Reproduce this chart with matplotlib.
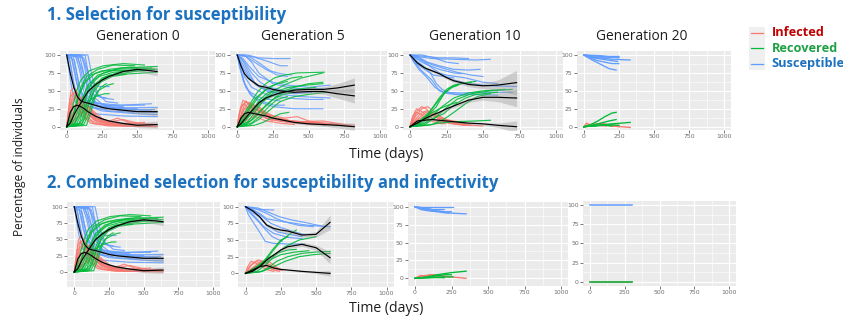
import matplotlib
matplotlib.use("Agg")
import matplotlib.pyplot as plt
from matplotlib.ticker import FixedLocator
import numpy as np

# ---------------- DATA ----------------
RED, GREEN, BLUE = "#F8766D", "#00BA38", "#619CFF"
x_ticks = [0, 250, 500, 750, 1000]
y_ticks = [0, 25, 50, 75, 100]
row_titles = ["1. Selection for susceptibility",
              "2. Combined selection for susceptibility and infectivity"]
strip_titles = ["Generation 0", "Generation 5", "Generation 10", "Generation 20"]
legend_labels = ["Infected", "Recovered", "Susceptible"]
legend_text_colors = ["#C00000", "#1CA145", "#1C72BE"]

# Generation 0 (same founder population in both experiments)
g0_S = [
    [(0,100),(20,95),(40,70),(60,50),(90,40),(150,32),(250,27),(400,22),(640,20)],
    [(0,100),(30,100),(50,85),(80,55),(120,38),(200,30),(350,25),(600,22)],
    [(0,100),(60,100),(90,80),(120,50),(160,35),(250,28),(450,24),(620,24)],
    [(0,100),(90,100),(120,75),(150,50),(190,35),(300,28),(500,25)],
    [(0,100),(110,98),(140,70),(170,45),(220,30),(350,26),(640,27)],
    [(0,100),(130,100),(160,65),(200,40),(260,30),(400,28)],
    [(0,100),(15,80),(35,55),(60,35),(100,25),(200,18),(400,15),(640,14)],
    [(0,100),(25,90),(50,60),(80,40),(130,30),(250,22),(500,18),(640,17)],
    [(0,100),(70,98),(100,85),(140,60),(180,45),(260,40),(330,38)],
    [(0,100),(100,100),(130,85),(170,62),(220,56),(300,56)],
    [(0,100),(45,100),(70,75),(100,50),(150,35),(300,30),(550,30)],
    [(0,100),(80,97),(110,70),(140,45),(200,33),(380,30),(600,32)],
    [(0,100),(55,92),(85,60),(120,40),(180,28),(300,22),(480,20)],
    [(0,100),(150,100),(180,70),(220,45),(280,35),(360,33)],
    [(0,100),(35,95),(65,65),(95,42),(140,30),(220,25),(280,24)],
    [(0,100),(120,96),(150,78),(180,55),(230,42),(280,40)],
]
g0_R = [
    [(0,0),(30,5),(60,25),(90,45),(130,62),(200,74),(300,80),(450,83),(640,80)],
    [(0,0),(50,3),(80,15),(110,38),(150,58),(220,72),(350,80),(600,82)],
    [(0,0),(80,2),(110,10),(140,30),(180,52),(250,68),(400,78),(620,80)],
    [(0,0),(100,2),(130,12),(160,35),(200,55),(280,70),(500,78)],
    [(0,0),(20,8),(45,30),(70,50),(100,65),(160,78),(260,85),(400,88),(550,86)],
    [(0,0),(60,5),(100,22),(140,45),(200,60),(300,72),(640,76)],
    [(0,0),(120,3),(150,15),(180,35),(220,50),(290,58),(330,60)],
    [(0,0),(70,4),(110,20),(150,35),(200,42),(270,46),(300,46)],
    [(0,0),(40,10),(70,35),(100,55),(140,70),(220,80),(330,86),(480,85)],
    [(0,0),(90,5),(120,25),(150,50),(190,65),(260,75),(380,82),(640,84)],
    [(0,0),(140,2),(170,20),(200,40),(240,55),(280,60)],
    [(0,0),(30,2),(60,12),(100,35),(150,55),(230,70),(330,76),(560,78)],
    [(0,0),(110,5),(150,28),(190,48),(240,62),(320,70),(420,73)],
    [(0,0),(50,15),(80,40),(120,60),(170,72),(250,78),(600,79)],
]
g0_I = [
    [(0,0),(15,25),(30,50),(50,55),(80,40),(120,20),(180,8),(250,3),(400,1),(640,0)],
    [(0,0),(20,15),(45,35),(70,45),(100,35),(150,18),(220,8),(350,3),(600,1)],
    [(0,0),(25,10),(60,25),(100,38),(130,30),(180,15),(260,6),(450,2)],
    [(0,0),(40,8),(80,20),(120,32),(160,25),(220,12),(300,5),(500,2)],
    [(0,0),(10,20),(25,40),(45,48),(70,35),(110,15),(170,5),(300,1),(640,1)],
    [(0,0),(30,12),(70,28),(110,30),(150,22),(200,12),(280,6),(400,10),(520,4)],
    [(0,0),(50,5),(100,18),(140,25),(180,20),(240,10),(330,5),(620,3)],
    [(0,0),(20,20),(40,38),(65,42),(95,28),(140,12),(200,4),(380,2)],
    [(0,0),(35,15),(75,35),(110,42),(150,30),(210,14),(290,7),(360,12),(450,5),(640,3)],
    [(0,0),(15,10),(40,28),(80,32),(130,22),(190,10),(260,4),(300,3)],
    [(0,0),(60,10),(110,22),(160,28),(200,20),(260,10),(350,4),(550,6)],
    [(0,0),(25,30),(45,45),(70,50),(100,38),(140,20),(200,9),(330,2),(480,1)],
]
g0_mean_t = [0, 25, 50, 75, 100, 125, 150, 200, 250, 300, 400, 500, 640]
g0_mean_S = [100, 75, 55, 42, 36, 34, 33, 30, 27, 25, 23, 21, 21]
g0_se_S = [1, 2, 2, 2, 2, 1.5, 1.5, 1.5, 1.5, 1.5, 2, 3, 6]
g0_mean_I = [0, 20, 28, 30, 28, 25, 21, 15, 11, 8, 4.5, 2, 3]
g0_se_I = [1, 1.5, 1.5, 1.5, 1.5, 1.5, 1.5, 1.5, 1.5, 1.5, 2, 3, 5]
g0_mean_R = [0, 5, 16, 25, 33, 41, 49, 58, 65, 70, 77, 80, 77]
g0_se_R = [0.5, 1, 1.5, 1.5, 1.5, 1.5, 1.5, 1.5, 1.5, 1.5, 2, 3, 6]

# Experiment 1, generation 5
e1g5_S = [
    [(0,100),(20,90),(50,70),(100,55),(200,45),(350,40),(500,38),(600,38)],
    [(0,100),(30,95),(70,80),(120,62),(200,50),(300,45),(450,42),(650,40)],
    [(0,100),(50,100),(100,90),(150,75),(250,60),(350,55),(500,52),(600,53)],
    [(0,100),(100,98),(200,92),(300,85),(350,85)],
    [(0,100),(20,85),(50,60),(90,45),(150,35),(250,28),(400,25),(600,25)],
    [(0,100),(40,95),(80,85),(150,70),(250,62),(350,58),(500,55),(650,58)],
    [(0,100),(60,98),(120,90),(200,80),(280,72),(350,70)],
    [(0,100),(10,88),(40,65),(80,50),(140,42),(220,38),(300,36)],
    [(0,100),(70,100),(150,96),(250,95),(370,95)],
    [(0,100),(30,90),(80,72),(130,58),(200,52),(300,50),(420,52),(560,52)],
    [(0,100),(50,90),(100,75),(160,62),(220,55),(300,52)],
    [(0,100),(25,78),(60,55),(110,42),(180,35),(260,30),(330,30)],
    [(0,100),(90,97),(160,88),(230,78),(300,74),(380,72)],
    [(0,100),(15,93),(45,80),(90,66),(160,55),(260,48),(400,46),(520,48)],
]
e1g5_R = [
    [(0,0),(50,8),(100,20),(150,30),(200,38),(300,48),(400,55),(500,60),(600,62)],
    [(0,0),(40,5),(100,18),(160,35),(250,50),(350,60),(450,68),(600,75)],
    [(0,0),(60,3),(120,12),(180,25),(250,38),(320,45),(400,48)],
    [(0,0),(30,10),(80,25),(130,40),(200,52),(280,60),(350,63)],
    [(0,0),(80,2),(150,10),(220,22),(300,35),(400,42),(500,45),(620,48)],
    [(0,0),(50,12),(100,28),(150,42),(220,55),(300,62),(380,68),(450,70)],
    [(0,0),(100,5),(160,15),(220,28),(280,38),(350,42)],
    [(0,0),(70,6),(130,22),(190,38),(260,48),(360,55),(480,58),(600,60)],
    [(0,0),(120,2),(180,6),(240,12),(300,18),(360,20)],
    [(0,0),(40,15),(90,32),(140,48),(200,60),(260,68),(330,72),(420,75),(610,76)],
    [(0,0),(90,8),(150,20),(200,30),(260,40),(320,48),(400,52),(550,55)],
    [(0,0),(60,10),(110,25),(160,38),(210,47),(260,50)],
]
e1g5_I = [
    [(0,0),(15,18),(35,30),(60,35),(100,30),(150,22),(250,12),(400,7),(600,4),(800,1)],
    [(0,0),(20,12),(50,25),(90,28),(140,22),(220,14),(350,8),(500,6),(700,3)],
    [(0,0),(30,20),(60,36),(90,30),(130,20),(200,12),(300,8),(450,5)],
    [(0,0),(40,10),(80,20),(130,25),(180,20),(260,12),(380,8),(600,5),(820,2)],
    [(0,0),(10,15),(30,28),(50,32),(80,25),(120,15),(200,8),(300,5),(400,3)],
    [(0,0),(25,8),(70,18),(120,24),(170,22),(240,16),(330,12),(420,14),(500,8),(650,4)],
    [(0,0),(50,15),(100,30),(150,28),(200,20),(280,12),(350,10)],
    [(0,0),(20,25),(40,37),(70,33),(110,22),(170,14),(260,9),(360,6),(550,3)],
    [(0,0),(60,8),(120,15),(180,18),(240,14),(300,10),(450,7),(600,8),(750,3)],
    [(0,0),(35,15),(75,28),(115,30),(160,25),(210,15),(280,9),(320,8)],
    [(0,0),(15,5),(50,15),(100,20),(150,18),(200,12),(250,8)],
    [(0,0),(40,22),(80,34),(120,30),(170,20),(240,12),(340,7),(480,5),(620,2)],
]
e1g5_mean_t = [0, 25, 50, 75, 100, 150, 200, 250, 300, 400, 500, 600, 700, 820]
e1g5_mean_S = [100, 85, 74, 68, 64, 57, 55, 52, 50, 48, 49, 49, 46, 43]
e1g5_se_S = [1, 2, 2, 2, 2, 2, 2, 2, 2, 2, 2.5, 3.5, 6, 10]
e1g5_mean_I = [0, 12, 18, 20, 19, 17, 15, 12, 10, 6, 4, 3, 2, 0]
e1g5_se_I = [0.5, 1.5, 1.5, 1.5, 1.5, 1.5, 1.5, 1.5, 1.5, 1.5, 2, 2.5, 3.5, 5]
e1g5_mean_R = [0, 4, 10, 16, 22, 33, 40, 44, 47, 51, 52, 52, 54, 58]
e1g5_se_R = [0.5, 1, 1.5, 1.5, 1.5, 1.5, 1.5, 1.5, 1.5, 2, 2.5, 3.5, 6, 10]

# Experiment 1, generation 10
e1g10_S = [
    [(0,100),(50,98),(150,95),(300,94),(450,93),(550,94)],
    [(0,100),(40,95),(100,88),(200,80),(300,75),(350,74)],
    [(0,100),(30,90),(80,78),(150,65),(200,50),(260,46),(400,45),(600,44)],
    [(0,100),(60,97),(120,90),(200,85),(300,80),(400,79),(480,80)],
    [(0,100),(20,92),(60,80),(110,70),(170,55),(230,48),(350,47),(500,48),(700,48)],
    [(0,100),(80,100),(150,97),(250,90),(330,88)],
    [(0,100),(50,90),(100,82),(180,76),(250,72),(380,68),(500,62),(600,60)],
    [(0,100),(70,95),(130,85),(200,75),(280,66),(400,60),(550,57),(730,56)],
    [(0,100),(35,93),(90,85),(140,75),(180,60),(220,52),(300,45),(380,44)],
    [(0,100),(100,98),(200,96),(300,96),(400,95)],
    [(0,100),(45,88),(100,80),(160,72),(230,70),(300,68)],
    [(0,100),(60,94),(130,88),(220,82),(320,76),(420,72),(500,70)],
]
e1g10_R = [
    [(0,0),(50,3),(100,10),(150,25),(200,40),(250,52),(300,58),(400,62),(450,63)],
    [(0,0),(80,5),(150,15),(220,28),(300,40),(400,47),(500,50),(650,52)],
    [(0,0),(100,3),(170,12),(240,25),(320,38),(420,46),(550,50),(700,52)],
    [(0,0),(60,5),(120,15),(180,28),(230,45),(280,55),(350,60),(420,62)],
    [(0,0),(120,2),(200,5),(300,7),(450,8),(550,9)],
    [(0,0),(90,4),(160,12),(230,18),(300,30),(380,40),(450,45),(600,48)],
    [(0,0),(40,5),(90,12),(140,18),(200,25),(260,30),(320,34)],
    [(0,0),(150,3),(230,10),(300,20),(380,32),(460,42),(550,46)],
    [(0,0),(70,8),(130,20),(190,35),(240,48),(290,55),(330,58)],
]
e1g10_I = [
    [(0,0),(20,10),(50,22),(80,28),(110,25),(160,15),(220,8),(300,4),(380,2)],
    [(0,0),(30,8),(70,18),(110,22),(150,20),(200,12),(260,7),(350,3),(420,2)],
    [(0,0),(15,12),(40,20),(70,18),(110,12),(160,7),(220,4)],
    [(0,0),(50,5),(100,12),(150,18),(200,15),(250,10),(320,6),(400,3)],
    [(0,0),(40,15),(80,25),(120,28),(160,22),(220,12),(280,6),(350,4)],
    [(0,0),(25,5),(60,10),(100,15),(150,12),(200,8),(260,5),(330,3),(500,1)],
    [(0,0),(60,12),(110,20),(170,15),(230,10),(300,8),(380,5)],
    [(0,0),(20,15),(45,25),(75,22),(120,15),(180,8),(240,4)],
]
e1g10_mean_t = [0, 50, 100, 150, 200, 250, 300, 400, 500, 600, 730]
e1g10_mean_S = [100, 89, 82, 78, 74, 68.5, 64, 59, 57, 58, 61.5]
e1g10_se_S = [0.5, 1.5, 2, 2, 2, 2, 2.5, 3, 4, 7, 17]
e1g10_mean_I = [0, 8, 9, 10, 9, 8, 7, 5, 4, 2, 0]
e1g10_se_I = [0.5, 1, 1, 1, 1, 1, 1.2, 1.5, 2, 3, 8]
e1g10_mean_R = [0, 5, 11, 16, 20, 25, 29, 37, 41, 41, 40]
e1g10_se_R = [0.5, 1, 1.5, 1.5, 2, 2, 2.5, 3, 4, 6, 12]

# Experiment 1, generation 20
e1g20_S = [
    [(0,100),(100,98),(250,98)],
    [(0,100),(50,97),(150,96),(250,97)],
    [(0,100),(80,97),(200,94),(330,93)],
    [(0,100),(60,93),(120,87),(180,81),(230,79)],
    [(0,100),(40,96),(100,92),(200,88),(250,88)],
    [(0,100),(30,97),(100,95),(200,92),(240,91)],
    [(0,100),(120,99),(200,97),(250,96)],
]
e1g20_R = [
    [(0,0),(50,3),(100,8),(150,14),(200,19),(230,20)],
    [(0,0),(60,2),(120,5),(180,8),(230,10)],
    [(0,0),(100,2),(200,4),(330,6)],
    [(0,0),(80,1),(160,3),(250,2)],
    [(0,0),(50,1),(150,2),(200,1)],
]
e1g20_I = [
    [(0,0),(20,5),(40,3),(100,4),(150,3),(250,0)],
    [(0,0),(30,2),(80,3),(130,5),(180,2),(250,1)],
    [(0,0),(60,2),(120,3),(200,1),(330,-1)],
    [(0,0),(50,1),(100,2),(160,1)],
]

# Experiment 2, generation 5
e2g5_S = [
    [(0,100),(50,98),(100,96),(200,95)],
    [(0,100),(40,96),(100,90),(150,82),(250,78),(350,75),(450,72),(600,70)],
    [(0,100),(30,93),(80,82),(130,70),(200,60),(300,54),(400,52)],
    [(0,100),(60,95),(120,85),(180,75),(260,68),(350,62),(420,58)],
    [(0,100),(20,88),(60,75),(100,62),(140,48),(200,45),(300,44),(420,44)],
    [(0,100),(70,97),(150,90),(220,82),(300,76),(380,72),(480,70)],
    [(0,100),(50,92),(100,84),(150,72),(230,62),(320,58),(400,55)],
    [(0,100),(90,98),(160,92),(240,85),(330,80),(430,76),(560,70)],
    [(0,100),(35,90),(90,78),(140,66),(190,55),(260,48)],
]
e2g5_R = [
    [(0,0),(60,4),(120,15),(180,30),(250,48),(320,60),(360,65)],
    [(0,0),(80,3),(140,12),(200,25),(280,40),(380,50),(500,55)],
    [(0,0),(100,2),(160,8),(220,18),(300,25),(400,30),(500,32),(600,33)],
    [(0,0),(50,5),(110,12),(170,20),(250,28),(350,32),(450,34)],
    [(0,0),(70,6),(130,18),(190,35),(250,50),(300,55)],
    [(0,0),(120,3),(200,10),(280,18),(380,25),(480,28),(600,30)],
    [(0,0),(40,5),(90,12),(150,22),(220,30),(300,35),(360,36)],
]
e2g5_I = [
    [(0,0),(20,8),(50,15),(90,20),(130,18),(180,12),(230,6),(260,4)],
    [(0,0),(30,5),(70,12),(110,18),(150,15),(200,9),(240,5)],
    [(0,0),(15,10),(40,18),(70,16),(110,10),(160,5),(200,3)],
    [(0,0),(50,6),(100,14),(150,20),(190,14),(230,8),(250,6)],
    [(0,0),(40,12),(80,18),(120,14),(170,8),(220,4)],
    [(0,0),(25,4),(60,9),(100,12),(140,10),(190,6),(240,3)],
]
e2g5_mean_t = [0, 50, 100, 150, 200, 250, 300, 400, 500, 600]
e2g5_mean_S = [100, 94, 85, 72.5, 67.5, 65, 63.5, 57.5, 58.5, 76.5]
e2g5_se_S = [0.5, 1.5, 2, 2.5, 2.5, 2.5, 3, 3, 4, 11]
e2g5_mean_I = [0, 5, 10, 12, 8, 6, 5, 3, 1.5, 0]
e2g5_se_I = [0.5, 1, 1, 1, 1, 1, 1, 1.5, 2, 4]
e2g5_mean_R = [0, 3, 10, 20, 27.5, 35, 40, 43.5, 38.5, 23.5]
e2g5_se_R = [0.5, 1, 1.5, 2, 2.5, 2.5, 3, 3, 4, 9]

# Experiment 2, generation 10
e2g10_S = [
    [(0,100),(100,100),(260,100)],
    [(0,100),(50,97),(120,95),(200,93),(250,93)],
    [(0,100),(80,98),(150,94),(250,91),(350,90)],
    [(0,100),(40,96),(100,94),(150,93)],
    [(0,100),(60,97),(130,96),(200,96)],
    [(0,100),(30,98),(90,96),(180,92),(230,91)],
]
e2g10_R = [
    [(0,0),(80,2),(150,5),(250,8),(350,10)],
    [(0,0),(60,1),(130,3),(200,5),(250,5)],
    [(0,0),(100,1),(180,2),(260,2)],
    [(0,0),(50,0.5),(120,1),(200,1)],
]
e2g10_I = [
    [(0,0),(30,3),(80,4),(130,5),(200,3),(350,0)],
    [(0,0),(50,2),(100,5),(150,4),(230,2)],
    [(0,0),(40,4),(90,3),(140,2),(200,1)],
]

# Experiment 2, generation 20
e2g20_S = [[(0,100),(305,100)]]
e2g20_R = [[(0,0),(305,0)]]
e2g20_I = [[(0,0),(305,0)]]

# ---------------- FIGURE ----------------
W, H = 843, 322
fig = plt.figure(figsize=(W / 100, H / 100), dpi=100)
renderer = fig.canvas.get_renderer()

def fx(x):
    return x / W

def fy(y):
    return 1 - y / H

def make_panel(x0, scale, top, bottom, ylim):
    left = x0 - 50 * scale
    width = 1100 * scale
    ax = fig.add_axes([left / W, 1 - bottom / H, width / W, (bottom - top) / H])
    ax.set_facecolor("#EBEBEB")
    ax.set_xlim(-50, 1050)
    ax.set_ylim(*ylim)
    ax.xaxis.set_major_locator(FixedLocator(x_ticks))
    ax.yaxis.set_major_locator(FixedLocator(y_ticks))
    ax.xaxis.set_minor_locator(FixedLocator([125, 375, 625, 875]))
    ax.yaxis.set_minor_locator(FixedLocator([-12.5, 12.5, 37.5, 62.5, 87.5]))
    ax.grid(which="major", color="white", lw=0.8)
    ax.grid(which="minor", color="white", lw=0.4)
    ax.set_axisbelow(True)
    for s in ax.spines.values():
        s.set_visible(False)
    ax.tick_params(which="major", length=2.0, width=0.5, color="#444444",
                   labelsize=4.4, labelcolor="#6e6e6e", pad=1.0)
    ax.tick_params(which="minor", length=0)
    return ax

def draw_traj(ax, trajs, color, alpha, lw):
    for tr in trajs:
        t = [p[0] for p in tr]
        v = [p[1] for p in tr]
        ax.plot(t, v, color=color, lw=lw, alpha=alpha, solid_joinstyle="round",
                zorder=2)

def draw_mean(ax, t, v, se):
    t = np.asarray(t, float)
    v = np.asarray(v, float)
    se = np.asarray(se, float)
    ax.fill_between(t, v - se, v + se, color="#999999", alpha=0.4, lw=0, zorder=3)
    ax.plot(t, v, color="black", lw=0.85, zorder=4)

# Row 1 panels
r1_top, r1_bot = 51.4, 130.3
a11 = make_panel(66.7, 0.1413, r1_top, r1_bot, (-5, 105))
a12 = make_panel(237.3, 0.1427, r1_top, r1_bot, (-5, 105))
a13 = make_panel(410.0, 0.1460, r1_top, r1_bot, (-5, 105))
a14 = make_panel(583.8, 0.1405, r1_top, r1_bot, (-5, 105))
# Row 2 panels
a21 = make_panel(74.3, 0.1387, 201.7, 286.7, (-22.5, 107.7))
a22 = make_panel(245.5, 0.1410, 201.7, 286.7, (-20, 107.5))
a23 = make_panel(415.0, 0.1460, 201.7, 286.0, (-10.7, 107))
a24 = make_panel(590.0, 0.1390, 200.5, 286.0, (-5.6, 106))

panels = [
    (a11, g0_S, g0_I, g0_R, 0.85, 0.85), (a21, g0_S, g0_I, g0_R, 0.85, 0.85),
    (a12, e1g5_S, e1g5_I, e1g5_R, 0.85, 0.85), (a13, e1g10_S, e1g10_I, e1g10_R, 0.9, 0.85),
    (a14, e1g20_S, e1g20_I, e1g20_R, 1.0, 0.95), (a22, e2g5_S, e2g5_I, e2g5_R, 0.9, 0.85),
    (a23, e2g10_S, e2g10_I, e2g10_R, 1.0, 0.95), (a24, e2g20_S, e2g20_I, e2g20_R, 1.0, 1.1),
]
for ax, S, I, R, al, lw in panels:
    draw_traj(ax, S, BLUE, al, lw)
    draw_traj(ax, I, RED, al, lw)
    draw_traj(ax, R, GREEN, al, lw)

means = [
    (a11, g0_mean_t, [(g0_mean_S, g0_se_S), (g0_mean_I, g0_se_I), (g0_mean_R, g0_se_R)]),
    (a21, g0_mean_t, [(g0_mean_S, g0_se_S), (g0_mean_I, g0_se_I), (g0_mean_R, g0_se_R)]),
    (a12, e1g5_mean_t, [(e1g5_mean_S, e1g5_se_S), (e1g5_mean_I, e1g5_se_I), (e1g5_mean_R, e1g5_se_R)]),
    (a13, e1g10_mean_t, [(e1g10_mean_S, e1g10_se_S), (e1g10_mean_I, e1g10_se_I), (e1g10_mean_R, e1g10_se_R)]),
    (a22, e2g5_mean_t, [(e2g5_mean_S, e2g5_se_S), (e2g5_mean_I, e2g5_se_I), (e2g5_mean_R, e2g5_se_R)]),
]
for ax, t, curves in means:
    for v, se in curves:
        draw_mean(ax, t, v, se)

# ---------------- TEXT ----------------
def fit_text(x, y, s, target_w, size0=10, rotation=0, **kw):
    t = fig.text(fx(x), fy(y), s, fontsize=size0, **kw)
    bb = t.get_window_extent(renderer)
    t.set_fontsize(size0 * target_w / bb.width)
    t.set_rotation(rotation)
    return t

TXT = "Open Sans"
TITLE_BLUE = "#1C72BE"
fit_text(47, 15, row_titles[0], 240, family=TXT, weight="bold",
         color=TITLE_BLUE, ha="left", va="center")
fit_text(47, 183.5, row_titles[1], 453, family=TXT, weight="bold",
         color=TITLE_BLUE, ha="left", va="center")

st = fit_text(475, 36.7, strip_titles[2], 92, family=TXT, color="#1e1e1e",
              ha="center", va="center")
strip_size = st.get_fontsize()
st.set_text("")
for (cx, s) in zip([137.5, 303, 475, 641.7], strip_titles):
    fig.text(fx(cx), fy(36.7), s, fontsize=strip_size, family=TXT,
             color="#1e1e1e", ha="center", va="center")

for yy in (154, 309):
    fit_text(386, yy, "Time (days)", 74, family=TXT, color="#1e1e1e",
             ha="center", va="center")

fit_text(19.5, 167, "Percentage of individuals", 140, rotation=90,
         family=TXT, color="#1e1e1e", ha="center", va="center")

# Legend
lt = fit_text(771.5, 48.3, legend_labels[1], 66, family=TXT, weight="bold",
              color=legend_text_colors[1], ha="left", va="center")
leg_size = lt.get_fontsize()
lt.set_text("")
key_ys = [32.5, 48.3, 63.5]
fig.patches.append(plt.Rectangle((fx(749), fy(70)), 16 / W, 43 / H,
                                 transform=fig.transFigure, color="#EFEFEF",
                                 lw=0, zorder=0))
for lab, col, kc, yy in zip(legend_labels, legend_text_colors, [RED, GREEN, BLUE], key_ys):
    fig.text(fx(771.5), fy(yy), lab, fontsize=leg_size, family=TXT,
             weight="bold", color=col, ha="left", va="center")
    fig.lines.append(plt.Line2D([fx(751), fx(763)], [fy(yy), fy(yy)],
                                transform=fig.transFigure, color=kc, lw=0.9))

fig.savefig("out.png", dpi=100)
